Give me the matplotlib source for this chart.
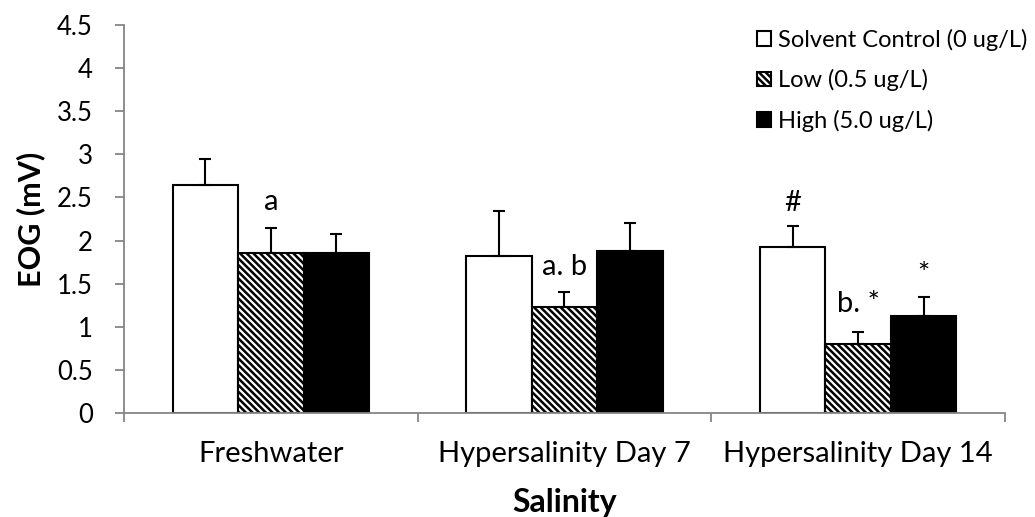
import numpy as np
import matplotlib
matplotlib.use('Agg')
import matplotlib.pyplot as plt

# values
categories = ['Freshwater', 'Hypersalinity Day 7', 'Hypersalinity Day 14']
series = ['Solvent Control (0 ug/L)', 'Low (0.5 ug/L)', 'High (5.0 ug/L)']
control = [2.64, 1.82, 1.93]
control_err = [0.30, 0.52, 0.24]
low = [1.86, 1.23, 0.80]
low_err = [0.29, 0.17, 0.14]
high = [1.85, 1.88, 1.12]
high_err = [0.22, 0.32, 0.22]

# significance letters: (category index, series index, text, baseline y)
annotations = [(0, 1, 'a', 2.35), (1, 1, 'a. b', 1.60),
               (2, 0, '#', 2.34), (2, 1, 'b. *', 1.175), (2, 2, '*', 1.51)]

plt.rcParams['font.family'] = ['Lato', 'DejaVu Sans']
plt.rcParams['hatch.linewidth'] = 1.8

fig = plt.figure(figsize=(10.35, 5.17), dpi=100)
ax = fig.add_axes([0.1198, 0.2012, 0.8512, 0.7505])

x = np.arange(len(categories)) + 0.5
w = 0.223
styles = [dict(color='white', hatch=None),
          dict(color='white', hatch='\\\\\\\\\\'),
          dict(color='black', hatch=None)]
vals = [control, low, high]
errs = [control_err, low_err, high_err]

for i, (v, e, st, name) in enumerate(zip(vals, errs, styles, series)):
    pos = x + (i - 1) * w
    ax.bar(pos, v, width=w, color=st['color'], edgecolor='black',
           hatch=st['hatch'], linewidth=1.5, label=name, zorder=2)
    ax.errorbar(pos, v, yerr=[np.zeros(len(e)), e], fmt='none', ecolor='black',
                elinewidth=1.5, capsize=4.5, capthick=1.5, zorder=3)

for ci, si, txt, yy in annotations:
    ax.text(x[ci] + (si - 1) * w, yy, txt, ha='center', va='baseline', fontsize=21)

ax.set_xlim(0, 3)
ax.set_ylim(0, 4.5)
ax.set_yticks(np.arange(0, 4.51, 0.5))
ax.set_yticklabels(['0', '0.5', '1', '1.5', '2', '2.5', '3', '3.5', '4', '4.5'])
ax.set_xticks([0, 1, 2, 3])
ax.set_xticklabels([])
ax.set_xticks(x, minor=True)
ax.set_xticklabels(categories, minor=True)
ax.tick_params(axis='x', which='minor', length=0, pad=20, labelsize=21)
ax.tick_params(axis='x', which='major', length=6.5, color='#868686', width=1.3)
ax.tick_params(axis='y', length=6.5, color='#868686', width=1.3, labelsize=18.5, pad=16)

for s in ['top', 'right']:
    ax.spines[s].set_visible(False)
for s in ['left', 'bottom']:
    ax.spines[s].set_color('#868686')
    ax.spines[s].set_linewidth(1.3)

ax.set_ylabel('EOG (mV)', fontsize=22, fontweight='bold', labelpad=8)
ax.set_xlabel('Salinity', fontsize=23, fontweight='bold', labelpad=15)

ax.legend(loc='upper left', bbox_to_anchor=(0.7314, 0.944), bbox_transform=fig.transFigure,
          frameon=False, fontsize=17, borderpad=0, borderaxespad=0,
          handlelength=0.6, handleheight=0.6, handletextpad=0.3, labelspacing=0.77)

fig.savefig('out.png', dpi=100)
